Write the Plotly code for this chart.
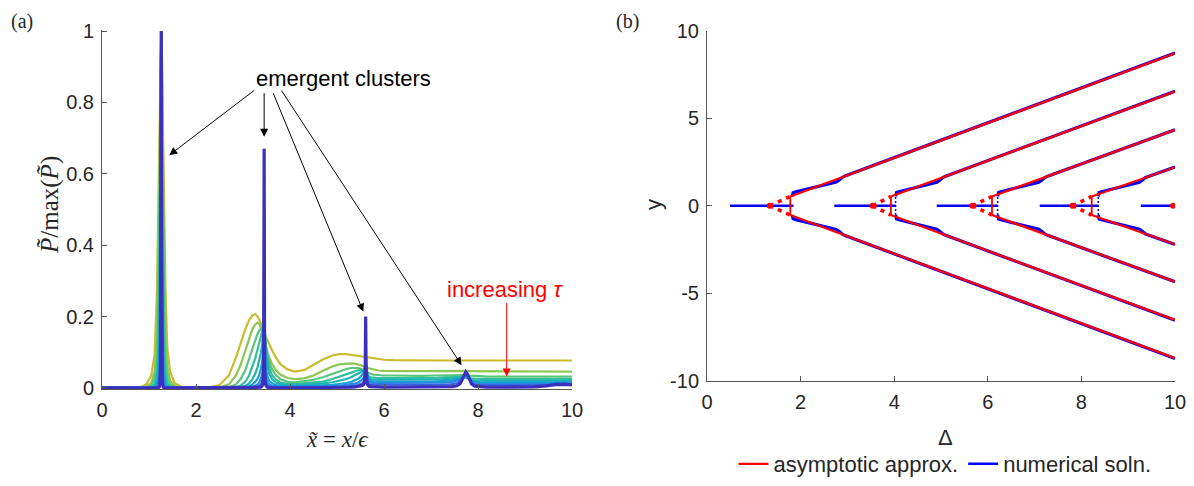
import plotly.graph_objects as go

# ---------------- Panel (a) data ----------------
X_GRID = [
    0, 0.7, 0.85, 0.95, 1.05, 1.12, 1.17, 1.20, 1.22, 1.235, 1.245, 1.253, 1.26,
    1.267, 1.275, 1.285, 1.30, 1.32, 1.35, 1.39, 1.45, 1.55, 1.7, 1.9, 2.1, 2.3,
    2.5, 2.7, 2.85, 2.95, 3.05, 3.13, 3.2, 3.26, 3.31, 3.35, 3.38, 3.405, 3.425,
    3.44, 3.45, 3.46, 3.475, 3.495, 3.52, 3.56, 3.62, 3.7, 3.8, 3.95, 4.1, 4.3,
    4.5, 4.7, 4.9, 5.05, 5.2, 5.3, 5.38, 5.45, 5.5, 5.54, 5.57, 5.59, 5.60, 5.61,
    5.62, 5.635, 5.655, 5.68, 5.72, 5.78, 5.87, 6.0, 6.2,
    6.5, 6.8, 7.1, 7.3, 7.45, 7.55, 7.62, 7.67, 7.71, 7.74, 7.77, 7.81, 7.86,
    7.93, 8.05, 8.2, 8.4,
    8.8, 9.2, 9.45, 9.65, 9.85, 10,
]

P_TAU1 = [
    0, 0.001, 0.004, 0.011, 0.036, 0.095, 0.28, 0.52, 0.70, 0.86, 0.94, 0.985, 1.0,
    0.985, 0.94, 0.86, 0.70, 0.52, 0.28, 0.11, 0.045, 0.013, 0.003, 0.001, 0.0, 0.002,
    0.008, 0.035, 0.085, 0.125, 0.165, 0.19, 0.203, 0.207, 0.2, 0.19, 0.18, 0.17, 0.163,
    0.157, 0.153, 0.149, 0.143, 0.14, 0.135, 0.122, 0.105, 0.085, 0.066, 0.052, 0.046, 0.05,
    0.065, 0.08, 0.091, 0.095, 0.095, 0.093, 0.091, 0.089, 0.088, 0.087, 0.086, 0.086, 0.086, 0.085,
    0.085, 0.085, 0.084, 0.084, 0.083, 0.082, 0.081, 0.079, 0.078,
    0.077, 0.077, 0.077, 0.077, 0.077, 0.077, 0.077, 0.077, 0.077, 0.077, 0.077, 0.077, 0.077,
    0.077, 0.077, 0.077, 0.077,
    0.077, 0.077, 0.077, 0.077, 0.077, 0.077,
]
P_TAU2 = [
    0, 0, 0.001, 0.004, 0.015, 0.047, 0.14, 0.36, 0.58, 0.77, 0.89, 0.97, 1.0,
    0.97, 0.89, 0.77, 0.58, 0.36, 0.14, 0.058, 0.02, 0.005, 0.001, 0, 0, 0,
    0.001, 0.01, 0.035, 0.065, 0.105, 0.14, 0.165, 0.178, 0.183, 0.18, 0.17, 0.158, 0.148,
    0.14, 0.135, 0.13, 0.122, 0.112, 0.1, 0.085, 0.067, 0.05, 0.037, 0.028, 0.025, 0.027,
    0.035, 0.048, 0.06, 0.066, 0.069, 0.069, 0.068, 0.066, 0.064, 0.062, 0.061, 0.06, 0.059, 0.059,
    0.058, 0.057, 0.056, 0.055, 0.053, 0.051, 0.049, 0.048, 0.047,
    0.047, 0.047, 0.048, 0.048, 0.048, 0.048, 0.048, 0.048, 0.048, 0.047, 0.047, 0.047, 0.047,
    0.047, 0.047, 0.047, 0.047,
    0.046, 0.046, 0.046, 0.046, 0.046, 0.046,
]
P_TAU3 = [
    0, 0, 0, 0.0015, 0.007, 0.027, 0.08, 0.22, 0.45, 0.68, 0.855, 0.955, 1.0,
    0.955, 0.855, 0.68, 0.45, 0.22, 0.08, 0.03, 0.009, 0.002, 0, 0, 0, 0,
    0, 0.002, 0.01, 0.025, 0.05, 0.08, 0.11, 0.135, 0.152, 0.162, 0.165, 0.162, 0.155,
    0.147, 0.14, 0.132, 0.12, 0.105, 0.09, 0.072, 0.052, 0.036, 0.024, 0.017, 0.016, 0.019,
    0.023, 0.03, 0.04, 0.047, 0.053, 0.056, 0.057, 0.056, 0.054, 0.052, 0.05, 0.049, 0.048, 0.047,
    0.046, 0.045, 0.043, 0.041, 0.039, 0.037, 0.036, 0.035, 0.035,
    0.034, 0.034, 0.035, 0.036, 0.036, 0.036, 0.036, 0.036, 0.035, 0.035, 0.034, 0.034, 0.033,
    0.033, 0.033, 0.032, 0.032,
    0.032, 0.032, 0.032, 0.032, 0.032, 0.032,
]
P_TAU4 = [
    0, 0, 0, 0, 0.002, 0.011, 0.04, 0.105, 0.29, 0.56, 0.77, 0.935, 1.0,
    0.935, 0.77, 0.56, 0.29, 0.105, 0.04, 0.013, 0.004, 0.001, 0, 0, 0, 0,
    0, 0, 0.002, 0.007, 0.018, 0.035, 0.058, 0.083, 0.108, 0.13, 0.146, 0.157, 0.16,
    0.158, 0.152, 0.143, 0.125, 0.1, 0.078, 0.055, 0.036, 0.023, 0.015, 0.011, 0.011, 0.013,
    0.014, 0.018, 0.025, 0.031, 0.038, 0.043, 0.047, 0.05, 0.051, 0.05, 0.048, 0.046, 0.045, 0.043,
    0.041, 0.038, 0.035, 0.032, 0.03, 0.029, 0.028, 0.028, 0.028,
    0.027, 0.027, 0.028, 0.03, 0.031, 0.032, 0.032, 0.032, 0.031, 0.03, 0.029, 0.028, 0.027,
    0.026, 0.025, 0.025, 0.025,
    0.025, 0.025, 0.025, 0.025, 0.025, 0.025,
]
P_TAU5 = [
    0, 0, 0, 0, 0.001, 0.004, 0.019, 0.06, 0.17, 0.43, 0.68, 0.9, 1.0,
    0.9, 0.68, 0.43, 0.17, 0.06, 0.019, 0.006, 0.001, 0, 0, 0, 0, 0,
    0, 0, 0, 0.002, 0.006, 0.013, 0.025, 0.04, 0.058, 0.078, 0.098, 0.12, 0.145,
    0.17, 0.18, 0.17, 0.13, 0.09, 0.06, 0.038, 0.024, 0.015, 0.01, 0.008, 0.008, 0.009,
    0.01, 0.012, 0.016, 0.02, 0.025, 0.03, 0.035, 0.04, 0.044, 0.048, 0.05, 0.05, 0.049, 0.047,
    0.044, 0.038, 0.032, 0.027, 0.024, 0.023, 0.023, 0.023, 0.023,
    0.022, 0.022, 0.023, 0.025, 0.027, 0.029, 0.03, 0.03, 0.03, 0.029, 0.027, 0.025, 0.023,
    0.021, 0.02, 0.02, 0.02,
    0.02, 0.02, 0.02, 0.02, 0.02, 0.02,
]
P_TAU6 = [
    0, 0, 0, 0, 0, 0.002, 0.009, 0.032, 0.087, 0.27, 0.56, 0.85, 1.0,
    0.85, 0.56, 0.27, 0.087, 0.032, 0.009, 0.002, 0, 0, 0, 0, 0, 0,
    0, 0, 0, 0, 0.002, 0.005, 0.01, 0.017, 0.026, 0.038, 0.052, 0.072, 0.1,
    0.17, 0.25, 0.17, 0.09, 0.05, 0.032, 0.02, 0.013, 0.008, 0.006, 0.005, 0.005, 0.006,
    0.006, 0.007, 0.009, 0.011, 0.014, 0.017, 0.021, 0.026, 0.031, 0.037, 0.044, 0.055, 0.063, 0.07,
    0.063, 0.045, 0.03, 0.023, 0.02, 0.019, 0.018, 0.018, 0.018,
    0.017, 0.017, 0.018, 0.02, 0.022, 0.025, 0.028, 0.031, 0.033, 0.033, 0.031, 0.026, 0.021,
    0.018, 0.016, 0.016, 0.016,
    0.016, 0.016, 0.016, 0.017, 0.017, 0.017,
]
P_TAU7 = [
    0, 0, 0, 0, 0, 0, 0.003, 0.012, 0.04, 0.13, 0.4, 0.75, 1.0,
    0.75, 0.4, 0.13, 0.04, 0.012, 0.003, 0.001, 0, 0, 0, 0, 0, 0,
    0, 0, 0, 0, 0, 0.001, 0.003, 0.006, 0.01, 0.016, 0.024, 0.035, 0.055,
    0.15, 0.35, 0.15, 0.05, 0.027, 0.017, 0.01, 0.006, 0.004, 0.003, 0.003, 0.003, 0.003,
    0.003, 0.004, 0.005, 0.006, 0.008, 0.01, 0.012, 0.015, 0.019, 0.024, 0.03, 0.045, 0.065, 0.1,
    0.065, 0.035, 0.022, 0.017, 0.015, 0.014, 0.014, 0.014, 0.014,
    0.013, 0.013, 0.013, 0.015, 0.017, 0.02, 0.024, 0.03, 0.035, 0.037, 0.034, 0.026, 0.018,
    0.013, 0.011, 0.011, 0.011,
    0.011, 0.011, 0.012, 0.012, 0.012, 0.012,
]
P_TAU8 = [
    0, 0, 0, 0, 0, 0, 0, 0.003, 0.014, 0.052, 0.21, 0.61, 1.0,
    0.61, 0.21, 0.052, 0.014, 0.003, 0, 0, 0, 0, 0, 0, 0, 0,
    0, 0, 0, 0, 0, 0, 0, 0.001, 0.003, 0.006, 0.01, 0.016, 0.03,
    0.1, 0.5, 0.1, 0.025, 0.012, 0.007, 0.004, 0.002, 0.002, 0.001, 0.001, 0.001, 0.002,
    0.002, 0.002, 0.003, 0.003, 0.004, 0.005, 0.006, 0.008, 0.01, 0.013, 0.018, 0.03, 0.06, 0.14,
    0.06, 0.025, 0.015, 0.011, 0.01, 0.009, 0.009, 0.009, 0.009,
    0.008, 0.008, 0.008, 0.009, 0.011, 0.014, 0.019, 0.027, 0.036, 0.041, 0.037, 0.026, 0.015,
    0.009, 0.007, 0.007, 0.007,
    0.007, 0.007, 0.008, 0.009, 0.009, 0.008,
]
P_TAU9 = [
    0, 0, 0, 0, 0, 0, 0, 0, 0.003, 0.015, 0.06, 0.37, 1.0,
    0.37, 0.06, 0.015, 0.003, 0, 0, 0, 0, 0, 0, 0, 0, 0,
    0, 0, 0, 0, 0, 0, 0, 0, 0, 0.001, 0.002, 0.005, 0.012,
    0.06, 0.67, 0.06, 0.012, 0.005, 0.002, 0.001, 0, 0, 0, 0, 0, 0.001,
    0.001, 0.001, 0.001, 0.001, 0.002, 0.002, 0.003, 0.004, 0.005, 0.007, 0.01, 0.02, 0.05, 0.2,
    0.05, 0.015, 0.008, 0.005, 0.004, 0.003, 0.003, 0.002, 0.002,
    0.002, 0.002, 0.002, 0.003, 0.004, 0.006, 0.012, 0.025, 0.039, 0.045, 0.04, 0.026, 0.012,
    0.005, 0.003, 0.002, 0.002,
    0.002, 0.003, 0.006, 0.01, 0.011, 0.009,
]
P_SERIES = [P_TAU1, P_TAU2, P_TAU3, P_TAU4, P_TAU5, P_TAU6, P_TAU7, P_TAU8, P_TAU9]
P_COLORS = ['#c8bd2d', '#8dc653', '#58c57c', '#31bf9b', '#1db4b3',
            '#16a4cf', '#2688e3', '#3a62e0', '#3b2fbe']

# ---------------- Panel (b) data ----------------
BIF_X = [1.34, 3.54, 5.67, 7.81, 9.96]          # bifurcation points (red dots)
VERT_X = [1.78, 3.93, 6.09, 8.22]               # red vertical segments
VERT_HALF = 0.53
RED_END_Y = [8.70, 6.52, 4.33, 2.20]            # outer branches at Delta = 10
BLUE_ZERO_START = [0.49, 2.72, 4.91, 7.11, 9.27]
BLUE_ZERO_END = [1.85, 4.03, 6.21, 8.36, 10.0]
BLUE_DOT_X = [4.03, 6.21, 8.36]
BLUE_BRANCH_X = [
    [1.82, 1.84, 1.9, 2.1, 2.4, 2.6, 2.76, 2.82, 2.88, 2.95, 10],
    [4.03, 4.05, 4.1, 4.3, 4.6, 4.8, 4.91, 4.97, 5.03, 5.1, 10],
    [6.21, 6.23, 6.28, 6.48, 6.78, 6.98, 7.09, 7.15, 7.21, 7.28, 10],
    [8.36, 8.38, 8.43, 8.63, 8.93, 9.13, 9.24, 9.30, 9.36, 9.43, 10],
]
BLUE_BRANCH_Y = [
    [0.53, 0.74, 0.79, 0.92, 1.11, 1.25, 1.35, 1.45, 1.60, 1.70, 8.72],
    [0.53, 0.76, 0.80, 0.93, 1.12, 1.26, 1.34, 1.45, 1.60, 1.69, 6.53],
    [0.53, 0.76, 0.80, 0.93, 1.12, 1.26, 1.34, 1.45, 1.60, 1.69, 4.34],
    [0.53, 0.76, 0.80, 0.93, 1.12, 1.26, 1.34, 1.45, 1.60, 1.67, 2.21],
]

X_TICKS = [0, 2, 4, 6, 8, 10]
PA_TICKS = [0, 0.2, 0.4, 0.6, 0.8, 1]
PB_YTICKS = [-10, -5, 0, 5, 10]
PB_YTICKTEXT = ['-10', '-5', '0', '5', '10']

RED = '#ff0000'
BLUE = '#0000ff'
SANS = 'Liberation Sans, Arial, sans-serif'
SERIF = 'Liberation Serif, DejaVu Serif, serif'
TXT = '#262626'

# page has an 8px default body margin on every side: figure placed at (8, 8)
OFF = 8
FIG_W, FIG_H = 1194 - 2 * OFF, 486 - 2 * OFF


def PX(px):
    return (px - OFF) / FIG_W


def PY(py):
    return (FIG_H + OFF - py) / FIG_H


fig = go.Figure()

# panel (a) curves
for k, (ys, c) in enumerate(zip(P_SERIES, P_COLORS)):
    fig.add_trace(go.Scatter(x=X_GRID, y=ys, mode='lines',
                             line=dict(color=c, width=3.2 if k == len(P_SERIES) - 1 else 2.2),
                             showlegend=False, hoverinfo='skip', xaxis='x', yaxis='y'))

# panel (b): blue numerical
for i, (x0, x1) in enumerate(zip(BLUE_ZERO_START, BLUE_ZERO_END)):
    fig.add_trace(go.Scatter(x=[x0, x1], y=[0, 0], mode='lines',
                             line=dict(color=BLUE, width=2.6), legendgroup='num',
                             name='numerical soln.', legendrank=2, showlegend=(i == 0),
                             hoverinfo='skip', xaxis='x2', yaxis='y2'))
for bx, by in zip(BLUE_BRANCH_X, BLUE_BRANCH_Y):
    fig.add_trace(go.Scatter(x=bx + [None] + bx, y=by + [None] + [-v for v in by],
                             mode='lines', line=dict(color=BLUE, width=3.2),
                             legendgroup='num', showlegend=False, hoverinfo='skip',
                             xaxis='x2', yaxis='y2'))
for dx in BLUE_DOT_X:
    fig.add_trace(go.Scatter(x=[dx, dx], y=[-VERT_HALF, VERT_HALF], mode='lines',
                             line=dict(color=BLUE, width=1.5, dash='2px,2px'),
                             showlegend=False, hoverinfo='skip', xaxis='x2', yaxis='y2'))

# panel (b): red asymptotic
for i, (vx, ey) in enumerate(zip(VERT_X, RED_END_Y)):
    fig.add_trace(go.Scatter(x=[vx, 10, None, vx, 10], y=[VERT_HALF, ey, None, -VERT_HALF, -ey],
                             mode='lines', line=dict(color=RED, width=2.2),
                             legendgroup='asy', name='asymptotic approx.', legendrank=1,
                             showlegend=(i == 0), hoverinfo='skip', xaxis='x2', yaxis='y2'))
    fig.add_trace(go.Scatter(x=[vx, vx], y=[-VERT_HALF, VERT_HALF], mode='lines',
                             line=dict(color=RED, width=1.8), showlegend=False,
                             hoverinfo='skip', xaxis='x2', yaxis='y2'))
    bx = BIF_X[i]
    fig.add_trace(go.Scatter(x=[bx, vx, None, bx, vx], y=[0, VERT_HALF, None, 0, -VERT_HALF],
                             mode='lines', line=dict(color=RED, width=3.6, dash='4px,5px'),
                             showlegend=False, hoverinfo='skip', xaxis='x2', yaxis='y2'))
fig.add_trace(go.Scatter(x=BIF_X, y=[0] * len(BIF_X), mode='markers',
                         marker=dict(color=RED, size=6, symbol='circle'),
                         showlegend=False, hoverinfo='skip', xaxis='x2', yaxis='y2'))

axis_common = dict(showgrid=False, zeroline=False, showline=True, linecolor='#555555',
                   linewidth=1, ticks='inside', ticklen=5, tickcolor='#555555',
                   tickfont=dict(family=SANS, size=20, color=TXT), mirror=False,
                   ticklabelstandoff=3, automargin=False, ticklabeloverflow='allow')

fig.update_layout(
    width=FIG_W, height=FIG_H, margin=dict(l=0, r=0, t=0, b=0, autoexpand=False),
    paper_bgcolor='white', plot_bgcolor='white',
    xaxis=dict(domain=[PX(102), PX(572)], range=[0, 10], tickvals=X_TICKS,
               anchor='y', **axis_common),
    yaxis=dict(domain=[PY(389.4), PY(29.6)], range=[-0.004, 1.004],
               tickvals=PA_TICKS, anchor='x', **axis_common),
    xaxis2=dict(domain=[PX(707), PX(1175)], range=[0, 10], tickvals=X_TICKS,
                anchor='y2', **axis_common),
    yaxis2=dict(domain=[PY(381), PY(30.5)], range=[-10, 10],
                tickvals=PB_YTICKS, ticktext=PB_YTICKTEXT, anchor='x2', **axis_common),
    showlegend=True,
    legend=dict(orientation='h', x=PX(945), xanchor='center', y=PY(464),
                yanchor='middle', font=dict(family=SANS, size=22, color=TXT),
                bgcolor='rgba(0,0,0,0)', itemwidth=30),
)


def label(text, x, y, font, angle=0, yanchor='middle', **kw):
    return dict(text=text, x=x, y=y, showarrow=False, xanchor='center', yanchor=yanchor,
                textangle=angle, font=font, **kw)


ann = [
    label('(a)', PX(22), 1.0, dict(family=SERIF, size=20, color=TXT), yanchor='top',
          xref='paper', yref='paper'),
    label('(b)', PX(627), 1.0, dict(family=SERIF, size=20, color=TXT), yanchor='top',
          xref='paper', yref='paper'),
    label('<i>P\u0303</i>/max(<i>P\u0303</i>)', PX(50), PY(205),
          dict(family=SERIF, size=25, color=TXT), angle=-90, xref='paper', yref='paper'),
    label('<i>x\u0303</i> = <i>x</i>/<i>\u03f5</i>', PX(337), PY(439),
          dict(family=SERIF, size=23, color=TXT), xref='paper', yref='paper'),
    label('\u0394', PX(945), PY(437), dict(family=SANS, size=22, color=TXT),
          xref='paper', yref='paper'),
    label('y', PX(653), PY(205), dict(family=SANS, size=22, color=TXT), angle=-90,
          xref='paper', yref='paper'),
    label('emergent clusters', 5.13, 0.868, dict(family=SANS, size=22, color='black'),
          xref='x', yref='y'),
    label('increasing <i>\u03c4</i>', 8.57, 0.277, dict(family=SANS, size=22, color=RED),
          xref='x', yref='y'),
]
ARROWS = [  # (tail x, tail y, head x, head y)
    (3.27, 0.837, 1.43, 0.652),
    (3.45, 0.830, 3.45, 0.704),
    (3.63, 0.830, 5.56, 0.214),
    (3.80, 0.837, 7.65, 0.064),
]
for tx, ty, hx, hy in ARROWS:
    ann.append(dict(x=hx, y=hy, ax=tx, ay=ty, xref='x', yref='y', axref='x', ayref='y',
                    showarrow=True, arrowhead=2, arrowsize=1.6, arrowwidth=1,
                    arrowcolor='black', text=''))
ann.append(dict(x=8.61, y=0.032, ax=8.61, ay=0.242, xref='x', yref='y', axref='x',
                ayref='y', showarrow=True, arrowhead=2, arrowsize=1.6, arrowwidth=1,
                arrowcolor=RED, text=''))
fig.update_layout(annotations=ann)

fig.write_html('out.html')
